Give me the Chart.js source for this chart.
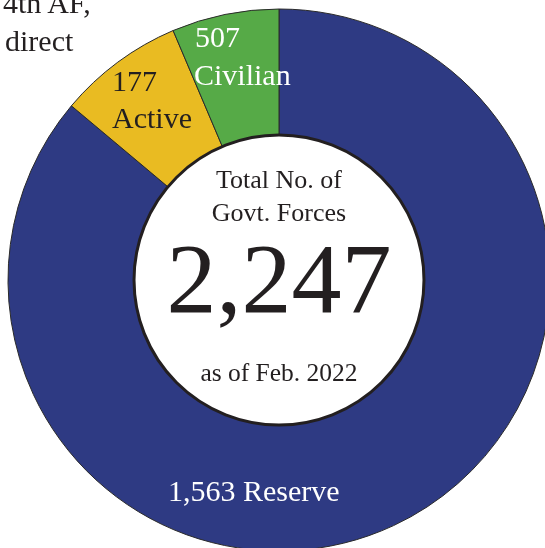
<!DOCTYPE html>
<html>
<head>
<meta charset="utf-8">
<script src="https://cdn.jsdelivr.net/npm/chart.js@4.4.1/dist/chart.umd.min.js"></script>
<style>
    body { margin: 0; width: 545px; height: 548px; overflow: hidden; background: #fff; position: relative; }
    #wrap { position: absolute; left: -21px; top: -20px; width: 600px; height: 600px; }
    .lbl { position: absolute; font-family: "Liberation Serif", "DejaVu Serif", serif; line-height: 1; white-space: nowrap; z-index: 2; }
    .ctr { left: 279px; transform: translateX(-50%); color: #231f20; }
</style>
</head>
<body>
<div id="wrap"><canvas id="chart"></canvas></div>

<div class="lbl" style="left:3px; top:-12px; font-size:30px; color:#231f20;">4th AF,</div>
<div class="lbl" style="left:5px; top:26px; font-size:30px; color:#231f20;">direct</div>

<div class="lbl" style="left:195px; top:22px; font-size:30px; color:#fff;">507</div>
<div class="lbl" style="left:194px; top:60px; font-size:30px; color:#fff;">Civilian</div>
<div class="lbl" style="left:112px; top:66px; font-size:30px; color:#231f20;">177</div>
<div class="lbl" style="left:112px; top:103px; font-size:30px; color:#231f20;">Active</div>
<div class="lbl" style="left:168px; top:476px; font-size:30px; color:#fff;">1,563 Reserve</div>

<div class="lbl ctr" style="top:167px; font-size:26px;">Total No. of</div>
<div class="lbl ctr" style="top:200px; font-size:26px;">Govt. Forces</div>
<div class="lbl ctr" style="top:229px; font-size:100px;">2,247</div>
<div class="lbl ctr" style="top:360px; font-size:25.5px;">as of Feb. 2022</div>

<script>
// categories, clockwise from 12 o'clock
const categories = ['Reserve', 'Active', 'Civilian'];
// counts printed on the slices
const counts = [1563, 177, 507];
// slice sizes as drawn in the picture (degrees, not to scale with the counts)
const sliceDegrees = [310, 27, 23];
const sliceColors = ['#2e3a83', '#e9bb22', '#56aa47'];

const ctx = document.getElementById('chart').getContext('2d');

// white hole with the heavy black ring round it
const innerRing = {
    id: 'innerRing',
    afterDatasetsDraw(chart) {
        const arc = chart.getDatasetMeta(0).data[0];
        const c = chart.ctx;
        c.save();
        c.beginPath();
        c.arc(arc.x, arc.y, arc.innerRadius, 0, Math.PI * 2);
        c.fillStyle = '#fff';
        c.fill();
        c.lineWidth = 3;
        c.strokeStyle = '#231f20';
        c.stroke();
        c.restore();
    }
};

const myChart = new Chart(ctx, {
    type: 'doughnut',
    data: {
        labels: categories.map((name, i) => `${counts[i].toLocaleString('en-US')} ${name}`),
        datasets: [{
            data: sliceDegrees,
            backgroundColor: sliceColors,
            borderColor: '#2a2a2a',
            borderWidth: 1
        }]
    },
    options: {
        responsive: true,
        maintainAspectRatio: false,
        animation: false,
        radius: 271,
        cutout: '53.5%',
        plugins: {
            legend: { display: false },
            tooltip: { enabled: false }
        }
    },
    plugins: [innerRing]
});
</script>
</body>
</html>
